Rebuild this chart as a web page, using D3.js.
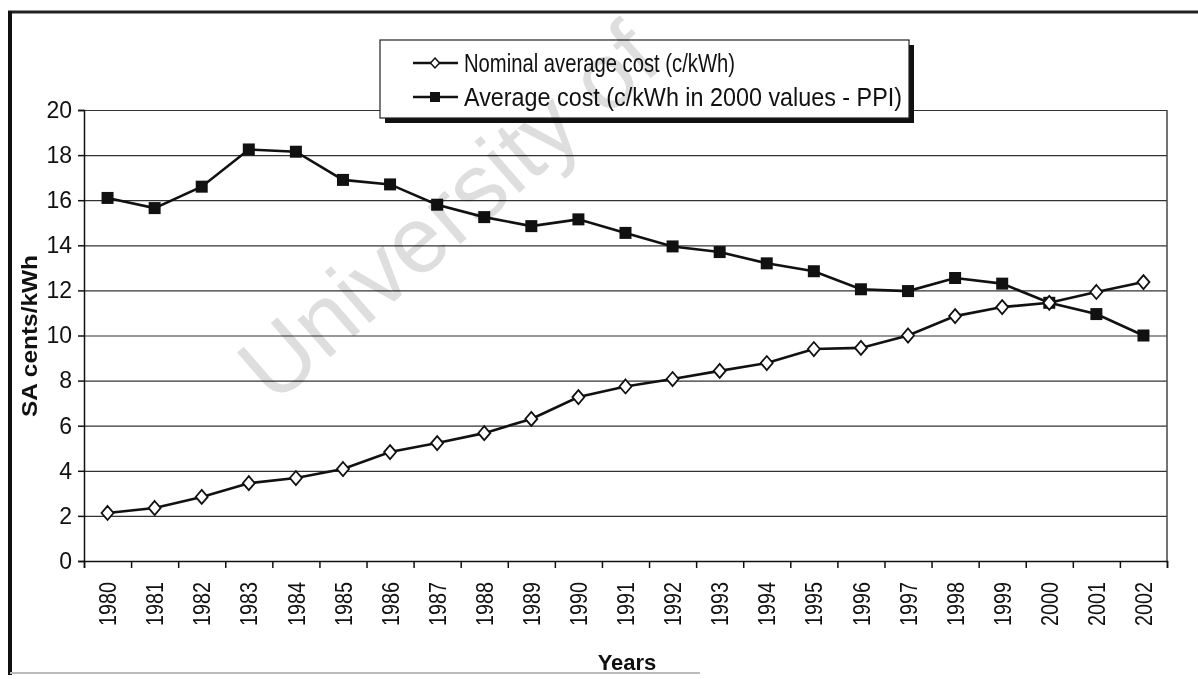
<!DOCTYPE html>
<html>
<head>
<meta charset="utf-8">
<script src="https://cdn.jsdelivr.net/npm/d3@7"></script>
<style>
  body { margin: 0; background: #fff; }
  svg { display: block; font-family: "Liberation Sans", Arial, sans-serif; }
</style>
</head>
<body>
<div id="chart"></div>
<script>
// data
var years = ["1980", "1981", "1982", "1983", "1984", "1985", "1986", "1987", "1988", "1989", "1990", "1991",
  "1992", "1993", "1994", "1995", "1996", "1997", "1998", "1999", "2000", "2001", "2002"];
var nominalCost = [2.13, 2.35, 2.84, 3.45, 3.68, 4.08, 4.83, 5.23, 5.67, 6.3, 7.27, 7.74,
  8.07, 8.43, 8.78, 9.4, 9.45, 10.0, 10.86, 11.26, 11.45, 11.93, 12.37];
var realCost = [16.1, 15.65, 16.6, 18.25, 18.15, 16.9, 16.7, 15.8, 15.25, 14.85, 15.15, 14.55,
  13.95, 13.7, 13.2, 12.85, 12.05, 11.97, 12.55, 12.3, 11.45, 10.95, 10.0];
var yTicks = [0, 2, 4, 6, 8, 10, 12, 14, 16, 18, 20];
var legendLabels = ["Nominal average cost (c/kWh)", "Average cost (c/kWh in 2000 values - PPI)"];

var svgWidth = 1198, svgHeight = 679;
var margin = { top: 110, right: 31, bottom: 118, left: 84 };
var width = svgWidth - margin.left - margin.right;
var height = svgHeight - margin.top - margin.bottom;

var svg = d3.select("#chart").append("svg")
  .attr("width", svgWidth)
  .attr("height", svgHeight);

// scanned page frame
svg.append("line").attr("x1", 8).attr("x2", svgWidth).attr("y1", 12).attr("y2", 12)
  .attr("stroke", "#222").attr("stroke-width", 3);
svg.append("line").attr("x1", 10).attr("x2", 10).attr("y1", 11).attr("y2", 675)
  .attr("stroke", "#111").attr("stroke-width", 4);
svg.append("line").attr("x1", 10).attr("x2", 700).attr("y1", 673).attr("y2", 673)
  .attr("stroke", "#bbb").attr("stroke-width", 2);

var chartGroup = svg.append("g")
  .attr("transform", `translate(${margin.left}, ${margin.top})`);

var xScale = d3.scaleBand().domain(years).range([0, width]);
var xEdges = d3.scaleLinear().domain([0, years.length]).range([0, width]);
var yScale = d3.scaleLinear().domain([0, 20]).range([height, 0]);

// gridlines
chartGroup.append("g")
  .call(d3.axisLeft(yScale).tickValues(yTicks).tickSize(-width).tickFormat(""))
  .call(g => g.select(".domain").remove())
  .selectAll("line").attr("stroke", "#333").attr("stroke-width", 1.2);

// right border
chartGroup.append("line")
  .attr("x1", width).attr("x2", width).attr("y1", 0).attr("y2", height)
  .attr("stroke", "#444").attr("stroke-width", 1.5);

// y axis
var leftAxis = chartGroup.append("g")
  .call(d3.axisLeft(yScale).tickValues(yTicks).tickSize(6).tickPadding(6));
leftAxis.selectAll("text").attr("font-size", "23px").attr("fill", "#111");
leftAxis.selectAll("line, path").attr("stroke", "#111").attr("stroke-width", 1.5);

// x axis ticks on band edges
var bottomTicks = chartGroup.append("g")
  .attr("transform", `translate(0, ${height})`)
  .call(d3.axisBottom(xEdges).tickValues(d3.range(years.length + 1)).tickSize(7).tickFormat(""));
bottomTicks.selectAll("line, path").attr("stroke", "#111").attr("stroke-width", 1.5);

// x labels
var bottomAxis = chartGroup.append("g")
  .attr("transform", `translate(0, ${height})`)
  .call(d3.axisBottom(xScale).tickSize(0));
bottomAxis.select(".domain").remove();
bottomAxis.selectAll("text")
  .attr("font-size", "24px")
  .attr("fill", "#111")
  .attr("transform", "rotate(-90)")
  .attr("text-anchor", "end")
  .attr("x", -21)
  .attr("y", 0)
  .attr("dy", "0.36em")
  .attr("textLength", 44)
  .attr("lengthAdjust", "spacingAndGlyphs");

// lines
var line = d3.line()
  .x((d, i) => xScale(years[i]) + xScale.bandwidth() / 2)
  .y(d => yScale(d));

chartGroup.append("path").datum(realCost)
  .attr("d", line).attr("fill", "none").attr("stroke", "#111").attr("stroke-width", 2.6);
chartGroup.append("path").datum(nominalCost)
  .attr("d", line).attr("fill", "none").attr("stroke", "#111").attr("stroke-width", 2.6);

var diamond = "M0,-7L6,0L0,7L-6,0Z";

chartGroup.selectAll(".sq").data(realCost).enter().append("rect")
  .attr("class", "sq")
  .attr("x", (d, i) => xScale(years[i]) + xScale.bandwidth() / 2 - 6)
  .attr("y", d => yScale(d) - 6)
  .attr("width", 12).attr("height", 12)
  .attr("fill", "#111");

chartGroup.selectAll(".dm").data(nominalCost).enter().append("path")
  .attr("class", "dm")
  .attr("d", diamond)
  .attr("transform", (d, i) => `translate(${xScale(years[i]) + xScale.bandwidth() / 2}, ${yScale(d)})`)
  .attr("fill", "#fff").attr("stroke", "#111").attr("stroke-width", 1.8);

// axis titles
svg.append("text")
  .attr("transform", "translate(37, 336) rotate(-90)")
  .attr("text-anchor", "middle")
  .attr("font-size", "22px").attr("font-weight", "bold").attr("fill", "#111")
  .attr("textLength", 162).attr("lengthAdjust", "spacingAndGlyphs")
  .text("SA cents/kWh");

svg.append("text")
  .attr("x", 627).attr("y", 670)
  .attr("text-anchor", "middle")
  .attr("font-size", "22px").attr("font-weight", "bold").attr("fill", "#111")
  .text("Years");

// legend with shadow
var legend = svg.append("g");
legend.append("rect").attr("x", 385).attr("y", 45).attr("width", 529).attr("height", 78).attr("fill", "#111");
legend.append("rect").attr("x", 380).attr("y", 40).attr("width", 529).attr("height", 78)
  .attr("fill", "#fff").attr("stroke", "#222").attr("stroke-width", 1.2);

var legendRows = [
  { label: legendLabels[0], y: 63, len: 271, marker: "diamond" },
  { label: legendLabels[1], y: 97, len: 438, marker: "square" }
];
legendRows.forEach(r => {
  legend.append("line").attr("x1", 413).attr("x2", 458).attr("y1", r.y).attr("y2", r.y)
    .attr("stroke", "#111").attr("stroke-width", 2.5);
  if (r.marker === "diamond") {
    legend.append("path").attr("d", "M0,-5L4.5,0L0,5L-4.5,0Z")
      .attr("transform", `translate(435, ${r.y})`)
      .attr("fill", "#fff").attr("stroke", "#111").attr("stroke-width", 1.5);
  } else {
    legend.append("rect").attr("x", 430).attr("y", r.y - 5).attr("width", 10).attr("height", 10).attr("fill", "#111");
  }
  legend.append("text")
    .attr("x", 464).attr("y", r.y).attr("dy", "0.36em")
    .attr("font-size", "25px").attr("fill", "#111")
    .attr("textLength", r.len).attr("lengthAdjust", "spacingAndGlyphs")
    .text(r.label);
});

// watermark printed over the page (multiply keeps black marks black)
svg.append("text")
  .attr("transform", "translate(274, 406) rotate(-41)")
  .attr("font-size", "94px")
  .attr("fill", "#dedede")
  .style("mix-blend-mode", "multiply")
  .text("University of");
</script>
</body>
</html>
